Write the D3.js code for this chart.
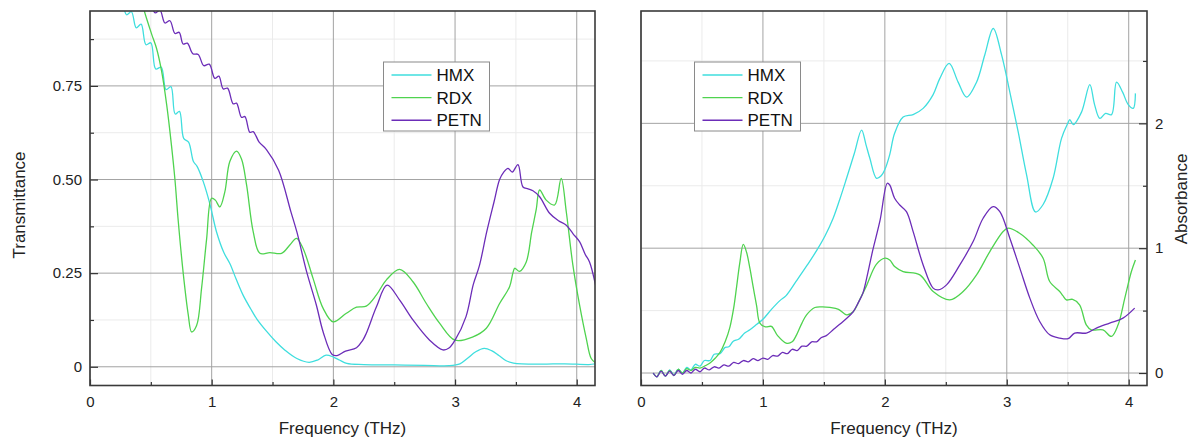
<!DOCTYPE html>
<html>
<head>
<meta charset="utf-8">
<script src="https://cdn.jsdelivr.net/npm/d3@7"></script>
<style>
  body { margin: 0; background: #fff; }
  svg { display: block; font-family: "Liberation Sans", Arial, sans-serif; }
</style>
</head>
<body>
<svg id="chart" width="1191" height="439"></svg>
<script>
// ---- data: [frequency THz, value] ----
const seriesNames = ["HMX", "RDX", "PETN"];
const seriesColors = ["#3fdede", "#4fd34f", "#6c2db8"];

// transmittance (left panel)
const hmxT = [[0.15,1.02],[0.22,0.965],[0.26,0.972],[0.30,0.94],[0.34,0.948],[0.38,0.905],[0.42,0.915],
  [0.46,0.86],[0.50,0.865],[0.54,0.795],[0.585,0.80],[0.625,0.74],[0.665,0.748],[0.70,0.675],[0.735,0.682],
  [0.77,0.61],[0.81,0.60],[0.85,0.548],[0.88,0.535],[0.93,0.495],[0.985,0.435],[1.04,0.36],[1.10,0.305],
  [1.15,0.275],[1.20,0.235],[1.26,0.19],[1.32,0.155],[1.37,0.128],[1.45,0.095],[1.53,0.066],[1.60,0.045],
  [1.70,0.022],[1.80,0.012],[1.87,0.018],[1.94,0.031],[2.00,0.026],[2.05,0.018],[2.11,0.009],[2.25,0.006],
  [2.50,0.005],[2.75,0.004],[2.95,0.003],[3.04,0.008],[3.10,0.022],[3.17,0.040],[3.24,0.049],[3.30,0.043],
  [3.36,0.030],[3.42,0.016],[3.48,0.010],[3.70,0.007],[3.90,0.008],[4.10,0.006],[4.16,0.008]];

const rdxT = [[0.40,1.0],[0.465,0.93],[0.51,0.885],[0.547,0.85],[0.588,0.79],[0.63,0.70],[0.67,0.59],
  [0.698,0.50],[0.725,0.39],[0.766,0.25],[0.807,0.14],[0.835,0.093],[0.876,0.11],[0.917,0.21],[0.958,0.34],
  [0.999,0.45],[1.03,0.445],[1.067,0.427],[1.108,0.467],[1.149,0.548],[1.204,0.576],[1.245,0.555],
  [1.287,0.485],[1.341,0.361],[1.396,0.303],[1.478,0.305],[1.574,0.303],[1.642,0.325],[1.697,0.343],
  [1.751,0.316],[1.833,0.236],[1.916,0.156],[1.998,0.12],[2.107,0.143],[2.19,0.159],[2.27,0.162],
  [2.354,0.192],[2.436,0.232],[2.545,0.26],[2.654,0.227],[2.764,0.169],[2.874,0.116],[3.0,0.071],
  [3.147,0.08],[3.257,0.103],[3.366,0.169],[3.448,0.214],[3.475,0.25],[3.49,0.263],[3.53,0.255],
  [3.585,0.28],[3.63,0.36],[3.667,0.42],[3.695,0.472],[3.749,0.445],[3.818,0.432],[3.872,0.503],
  [3.914,0.414],[3.968,0.272],[4.023,0.165],[4.078,0.076],[4.119,0.022],[4.16,0.009]];

const petnT = [[0.20,1.02],[0.40,0.99],[0.45,0.962],[0.49,0.97],[0.535,0.945],[0.575,0.952],[0.616,0.918],
  [0.657,0.924],[0.698,0.89],[0.733,0.893],[0.765,0.862],[0.80,0.864],[0.845,0.836],[0.889,0.834],
  [0.935,0.804],[0.98,0.808],[1.026,0.77],[1.059,0.776],[1.095,0.742],[1.13,0.744],[1.177,0.702],
  [1.204,0.704],[1.245,0.666],[1.273,0.668],[1.314,0.626],[1.341,0.628],[1.39,0.60],[1.45,0.58],
  [1.55,0.525],[1.65,0.415],[1.70,0.36],[1.78,0.254],[1.86,0.165],[1.916,0.093],[1.99,0.033],
  [2.03,0.03],[2.10,0.042],[2.19,0.051],[2.24,0.07],[2.27,0.089],[2.354,0.16],[2.441,0.218],
  [2.545,0.178],[2.654,0.125],[2.791,0.071],[2.9,0.045],[2.95,0.05],[3.0,0.071],[3.09,0.134],
  [3.15,0.22],[3.2,0.27],[3.26,0.36],[3.32,0.44],[3.366,0.50],[3.40,0.52],[3.435,0.53],[3.47,0.52],
  [3.517,0.54],[3.558,0.48],[3.60,0.475],[3.64,0.47],[3.695,0.454],[3.777,0.41],[3.85,0.39],
  [3.914,0.378],[3.97,0.355],[4.023,0.334],[4.07,0.30],[4.105,0.28],[4.16,0.21]];

// absorbance (right panel)
const hmxA = [[0.10,0.0],[0.13,-0.03],[0.165,0.02],[0.20,-0.025],[0.235,0.025],[0.27,-0.015],[0.305,0.03],
  [0.34,0.0],[0.375,0.045],[0.41,0.025],[0.445,0.07],[0.484,0.055],[0.52,0.10],[0.566,0.10],[0.60,0.15],
  [0.648,0.155],[0.69,0.205],[0.72,0.21],[0.757,0.255],[0.80,0.27],[0.85,0.32],[0.893,0.346],[0.95,0.39],
  [1.0,0.43],[1.07,0.51],[1.139,0.58],[1.19,0.62],[1.276,0.74],[1.36,0.86],[1.44,0.98],[1.51,1.10],
  [1.576,1.24],[1.63,1.39],[1.686,1.56],[1.75,1.76],[1.809,1.946],[1.845,1.83],[1.877,1.72],[1.932,1.56],
  [1.97,1.58],[2.0,1.63],[2.04,1.75],[2.08,1.92],[2.15,2.05],[2.232,2.07],[2.314,2.12],[2.396,2.23],
  [2.451,2.36],[2.527,2.48],[2.601,2.33],[2.67,2.21],[2.752,2.33],[2.82,2.55],[2.889,2.76],[2.957,2.55],
  [3.025,2.25],[3.094,1.93],[3.162,1.59],[3.236,1.29],[3.298,1.35],[3.38,1.56],[3.449,1.88],[3.50,2.0],
  [3.517,2.03],[3.545,1.99],[3.613,2.09],[3.681,2.31],[3.72,2.15],[3.763,2.04],[3.81,2.08],[3.859,2.07],
  [3.90,2.33],[3.95,2.25],[3.996,2.15],[4.037,2.12],[4.055,2.24]];

const rdxA = [[0.10,0.0],[0.13,-0.03],[0.165,0.02],[0.20,-0.025],[0.235,0.02],[0.27,-0.02],[0.305,0.03],
  [0.34,0.0],[0.375,0.035],[0.41,0.02],[0.445,0.045],[0.484,0.04],[0.53,0.06],[0.566,0.08],[0.61,0.12],
  [0.648,0.165],[0.69,0.25],[0.73,0.37],[0.76,0.52],[0.784,0.69],[0.81,0.88],[0.839,1.03],[0.865,0.97],
  [0.893,0.84],[0.92,0.69],[0.948,0.54],[0.975,0.40],[1.02,0.37],[1.07,0.373],[1.12,0.30],[1.19,0.24],
  [1.24,0.25],[1.276,0.306],[1.32,0.40],[1.358,0.466],[1.426,0.525],[1.49,0.53],[1.549,0.525],
  [1.62,0.51],[1.686,0.466],[1.74,0.49],[1.80,0.60],[1.85,0.70],[1.93,0.87],[2.0,0.92],[2.04,0.906],
  [2.08,0.853],[2.15,0.813],[2.287,0.786],[2.396,0.653],[2.533,0.586],[2.642,0.653],[2.752,0.786],
  [2.861,0.973],[2.97,1.133],[3.01,1.16],[3.105,1.12],[3.214,1.026],[3.298,0.92],[3.352,0.733],
  [3.434,0.653],[3.46,0.62],[3.489,0.586],[3.54,0.59],[3.597,0.546],[3.652,0.386],[3.693,0.346],
  [3.789,0.346],[3.858,0.293],[3.913,0.386],[3.968,0.6],[4.022,0.813],[4.055,0.906]];

const petnA = [[0.10,0.0],[0.13,-0.03],[0.165,0.015],[0.20,-0.025],[0.235,0.015],[0.27,-0.02],[0.305,0.02],
  [0.34,-0.01],[0.375,0.02],[0.41,0.0],[0.445,0.03],[0.484,0.01],[0.52,0.04],[0.56,0.025],[0.60,0.05],
  [0.64,0.04],[0.68,0.065],[0.72,0.055],[0.76,0.085],[0.80,0.075],[0.84,0.10],[0.88,0.09],[0.92,0.115],
  [0.96,0.10],[1.0,0.12],[1.04,0.11],[1.08,0.14],[1.12,0.135],[1.16,0.165],[1.20,0.155],[1.24,0.19],
  [1.28,0.18],[1.32,0.215],[1.36,0.215],[1.40,0.25],[1.44,0.25],[1.48,0.285],[1.52,0.30],[1.58,0.35],
  [1.63,0.39],[1.69,0.44],[1.74,0.49],[1.78,0.56],[1.82,0.64],[1.86,0.80],[1.90,0.98],[1.96,1.22],
  [2.02,1.52],[2.04,1.506],[2.08,1.40],[2.122,1.346],[2.177,1.293],[2.232,1.133],[2.314,0.866],
  [2.396,0.68],[2.437,0.666],[2.506,0.706],[2.615,0.866],[2.724,1.053],[2.806,1.24],[2.888,1.333],
  [2.943,1.293],[3.025,1.08],[3.107,0.84],[3.189,0.6],[3.27,0.413],[3.352,0.306],[3.434,0.28],
  [3.503,0.275],[3.557,0.32],[3.652,0.32],[3.735,0.36],[3.844,0.40],[3.953,0.44],[4.049,0.52]];

// ---- ticks ----
const xMajor = [0, 1, 2, 3, 4];
const xLabels = ["0", "1", "2", "3", "4"];
const xMinor = [0.5, 1.5, 2.5, 3.5];
const tMajor = [0, 0.25, 0.5, 0.75];
const tLabels = ["0", "0.25", "0.50", "0.75"];
const tMinor = [0.125, 0.375, 0.625, 0.875];
const aMajor = [0, 1, 2];
const aLabels = ["0", "1", "2"];
const aMinor = [0.5, 1.5, 2.5];

const svg = d3.select("#chart");

function panel({ id, left, right, top = 11, bottom = 385.5, yDomain, series,
                 yMajor, yLabels, yMinor, yTitle, ySide, legendAt }) {

    const x = d3.scaleLinear().domain([0, 4.15]).range([left, right]);
    const y = d3.scaleLinear().domain(yDomain).range([bottom, top]);

    const g = svg.append("g");

    // grid (minor first, then major)
    g.append("g").selectAll("line").data(xMinor).join("line")
        .attr("x1", d => x(d)).attr("x2", d => x(d)).attr("y1", top).attr("y2", bottom)
        .attr("stroke", "#ebebeb");
    g.append("g").selectAll("line").data(yMinor).join("line")
        .attr("y1", d => y(d)).attr("y2", d => y(d)).attr("x1", left).attr("x2", right)
        .attr("stroke", "#ebebeb");
    g.append("g").selectAll("line").data(xMajor).join("line")
        .attr("x1", d => x(d)).attr("x2", d => x(d)).attr("y1", top).attr("y2", bottom)
        .attr("stroke", "#a3a3a3");
    g.append("g").selectAll("line").data(yMajor).join("line")
        .attr("y1", d => y(d)).attr("y2", d => y(d)).attr("x1", left).attr("x2", right)
        .attr("stroke", "#a3a3a3");

    // curves, clipped to the frame
    g.append("clipPath").attr("id", id)
        .append("rect").attr("x", left).attr("y", top)
        .attr("width", right - left).attr("height", bottom - top);

    const line = d3.line()
        .x(d => x(d[0]))
        .y(d => y(d[1]))
        .curve(d3.curveCatmullRom.alpha(0.5));

    g.append("g").attr("clip-path", `url(#${id})`)
        .selectAll("path").data(series).join("path")
        .attr("d", d => line(d))
        .attr("fill", "none")
        .attr("stroke", (d, i) => seriesColors[i])
        .attr("stroke-width", 1.3);

    // axes (ticks point inward)
    const styleAxis = a => a
        .call(a => a.select(".domain").remove())
        .call(a => a.selectAll("text").attr("font-size", 15).attr("fill", "#222")
            .attr("font-family", "Liberation Sans, Arial, sans-serif"))
        .call(a => a.selectAll("line").attr("stroke", "#333").attr("stroke-width", 1.2));

    g.append("g").attr("transform", `translate(0,${bottom})`)
        .call(d3.axisBottom(x).tickValues(xMajor).tickSize(-6).tickPadding(11)
            .tickFormat((d, i) => xLabels[i]))
        .call(styleAxis);
    g.append("g").attr("transform", `translate(0,${bottom})`)
        .call(d3.axisBottom(x).tickValues(xMinor).tickSize(-3.5).tickFormat(""))
        .call(styleAxis);

    const yAxis = ySide === "left" ? d3.axisLeft : d3.axisRight;
    const yPos = ySide === "left" ? left : right;
    g.append("g").attr("transform", `translate(${yPos},0)`)
        .call(yAxis(y).tickValues(yMajor).tickSize(-8).tickPadding(8)
            .tickFormat((d, i) => yLabels[i]))
        .call(styleAxis);
    g.append("g").attr("transform", `translate(${yPos},0)`)
        .call(yAxis(y).tickValues(yMinor).tickSize(-4).tickFormat(""))
        .call(styleAxis);

    // frame
    g.append("rect")
        .attr("x", left).attr("y", top)
        .attr("width", right - left).attr("height", bottom - top)
        .attr("fill", "none").attr("stroke", "#3a3a3a").attr("stroke-width", 1.6);

    // titles
    g.append("text")
        .attr("x", (left + right) / 2).attr("y", 434)
        .attr("text-anchor", "middle").attr("font-size", 17).attr("fill", "#222")
        .text("Frequency (THz)");
    const tx = ySide === "left" ? 25 : 1187;
    g.append("text")
        .attr("transform", `translate(${tx},${ySide === "left" ? 205 : 199}) rotate(-90)`)
        .attr("text-anchor", "middle").attr("font-size", 17).attr("fill", "#222")
        .text(yTitle);

    // legend
    const lg = g.append("g").attr("transform", `translate(${legendAt[0]},${legendAt[1]})`);
    lg.append("rect")
        .attr("width", 106).attr("height", 69)
        .attr("fill", "#fff").attr("stroke", "#8a8a8a").attr("stroke-width", 1);
    const row = lg.selectAll("g").data(seriesNames).join("g")
        .attr("transform", (d, i) => `translate(0,${13 + i * 22.6})`);
    row.append("line")
        .attr("x1", 8).attr("x2", 48)
        .attr("stroke", (d, i) => seriesColors[i]).attr("stroke-width", 1.4);
    row.append("text")
        .attr("x", 53).attr("dy", "0.36em")
        .attr("font-size", 17).attr("fill", "#111")
        .text(d => d);
}

panel({
    id: "clipL", left: 90, right: 595, yDomain: [-0.05, 0.95],
    series: [hmxT, rdxT, petnT],
    yMajor: tMajor, yLabels: tLabels, yMinor: tMinor,
    yTitle: "Transmittance", ySide: "left", legendAt: [383.5, 62]
});

panel({
    id: "clipR", left: 641, right: 1147, yDomain: [-0.1, 2.9],
    series: [hmxA, rdxA, petnA],
    yMajor: aMajor, yLabels: aLabels, yMinor: aMinor,
    yTitle: "Absorbance", ySide: "right", legendAt: [694.5, 62]
});
</script>
</body>
</html>
